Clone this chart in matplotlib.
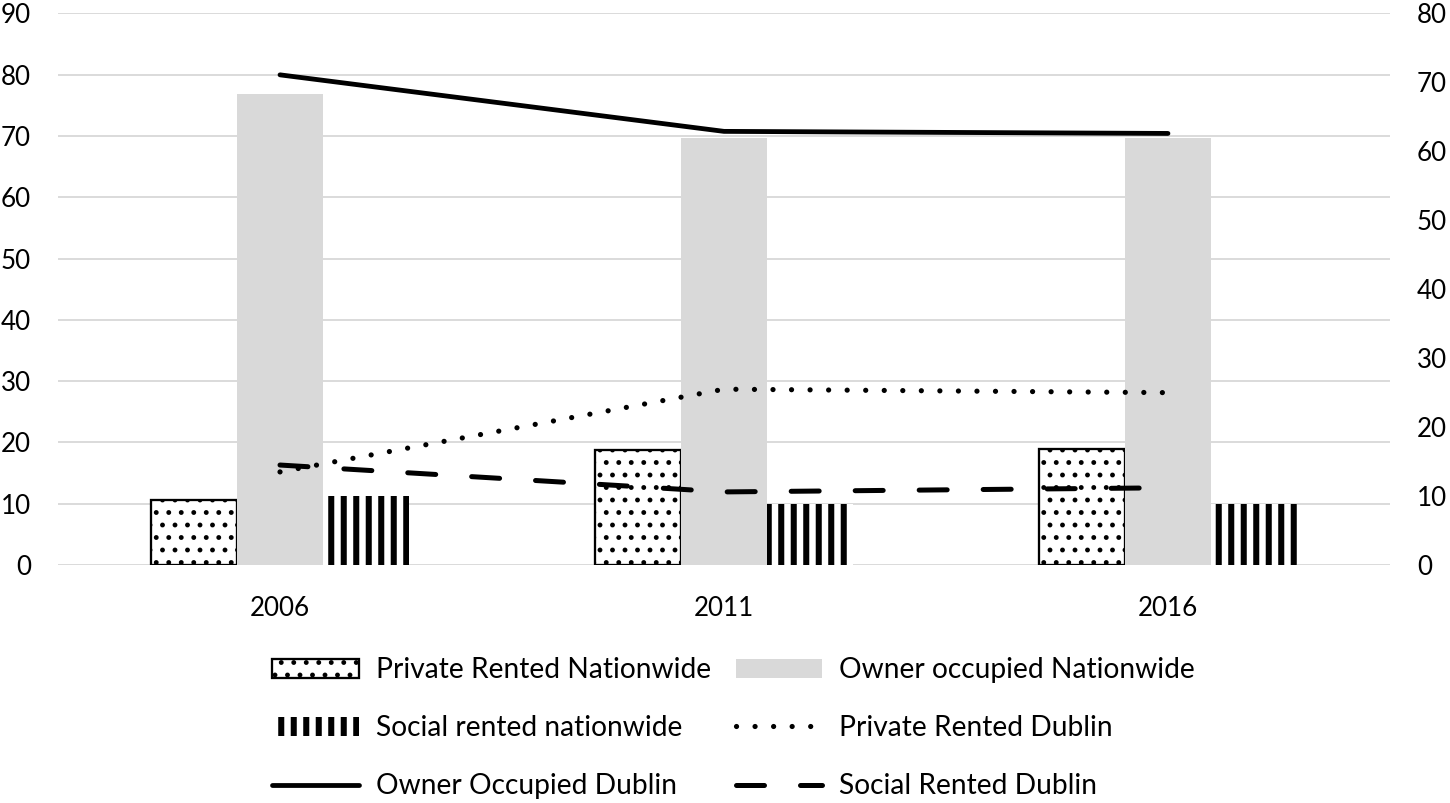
import matplotlib

matplotlib.use("Agg")
import matplotlib.pyplot as plt
import numpy as np

# values
years = ["2006", "2011", "2016"]
private_nat = [10.6, 18.8, 19.0]   # left axis
owner_nat = [76.9, 69.6, 69.6]
social_nat = [11.2, 9.9, 9.9]
owner_dub = [71.1, 62.9, 62.6]     # right axis
private_dub = [13.5, 25.5, 25.0]
social_dub = [14.5, 10.6, 11.2]

DPI = 75
plt.rcParams["font.family"] = ["Lato", "DejaVu Sans"]

fig = plt.figure(figsize=(1450 / DPI, 803 / DPI), dpi=DPI)
ax = fig.add_axes([0.04, 0.2964, 0.9186, 0.6868])
x = np.arange(len(years))
w = 0.194


def hatch_lw(patches, lw):
    for p in patches:
        if hasattr(p, "set_hatch_linewidth"):
            p.set_hatch_linewidth(lw)


b1 = ax.bar(x - w, private_nat, w, color="white", edgecolor="black",
            lw=2.2, hatch=".", label="Private Rented Nationwide", zorder=2)
hatch_lw(b1, 2.2)
b2 = ax.bar(x, owner_nat, w, color="#d9d9d9", lw=0,
            label="Owner occupied Nationwide", zorder=2)
b3 = ax.bar(x + w, social_nat, w, color="white", edgecolor="black",
            lw=0, hatch="|", label="Social rented nationwide", zorder=2)
hatch_lw(b3, 5.8)

ax.set_xlim(-0.5, 2.5)
ax.set_ylim(0, 90)
ax.set_yticks(range(0, 91, 10))
ax.set_xticks(x, years)
ax.set_axisbelow(True)
ax.yaxis.grid(True, color="#d9d9d9", lw=1.8)
for s in ax.spines.values():
    s.set_visible(False)
ax.tick_params(length=0, labelsize=25, colors="black")
ax.tick_params(axis="y", pad=26)
ax.tick_params(axis="x", pad=30)

ax2 = ax.twinx()
ax2.set_ylim(0, 80)
ax2.set_yticks(range(0, 81, 10))
for s in ax2.spines.values():
    s.set_visible(False)
ax2.tick_params(length=0, labelsize=25, pad=26)
l1, = ax2.plot(x, owner_dub, color="black", lw=4.6, solid_capstyle="round",
               label="Owner Occupied Dublin")
l2, = ax2.plot(x, private_dub, color="black", lw=5, dash_capstyle="round",
               linestyle=(0, (0.01, 3.55)), label="Private Rented Dublin")
l3, = ax2.plot(x, social_dub, color="black", lw=4.8, dash_capstyle="round",
               linestyle=(0, (5.6, 7.2)), label="Social Rented Dublin")

handles = [b1, b3, l1, b2, l2, l3]
labels = [h.get_label() for h in handles]
leg = fig.legend(handles, labels, ncol=2, loc="center",
                 bbox_to_anchor=(0.506, 0.093), frameon=False, fontsize=27,
                 handlelength=3.07, handletextpad=0.6, columnspacing=0.9,
                 labelspacing=1.14)
lh = leg.legend_handles
hatch_lw([lh[0]], 2.2)
hatch_lw([lh[1]], 5.8)

fig.savefig("out.png", dpi=DPI)
